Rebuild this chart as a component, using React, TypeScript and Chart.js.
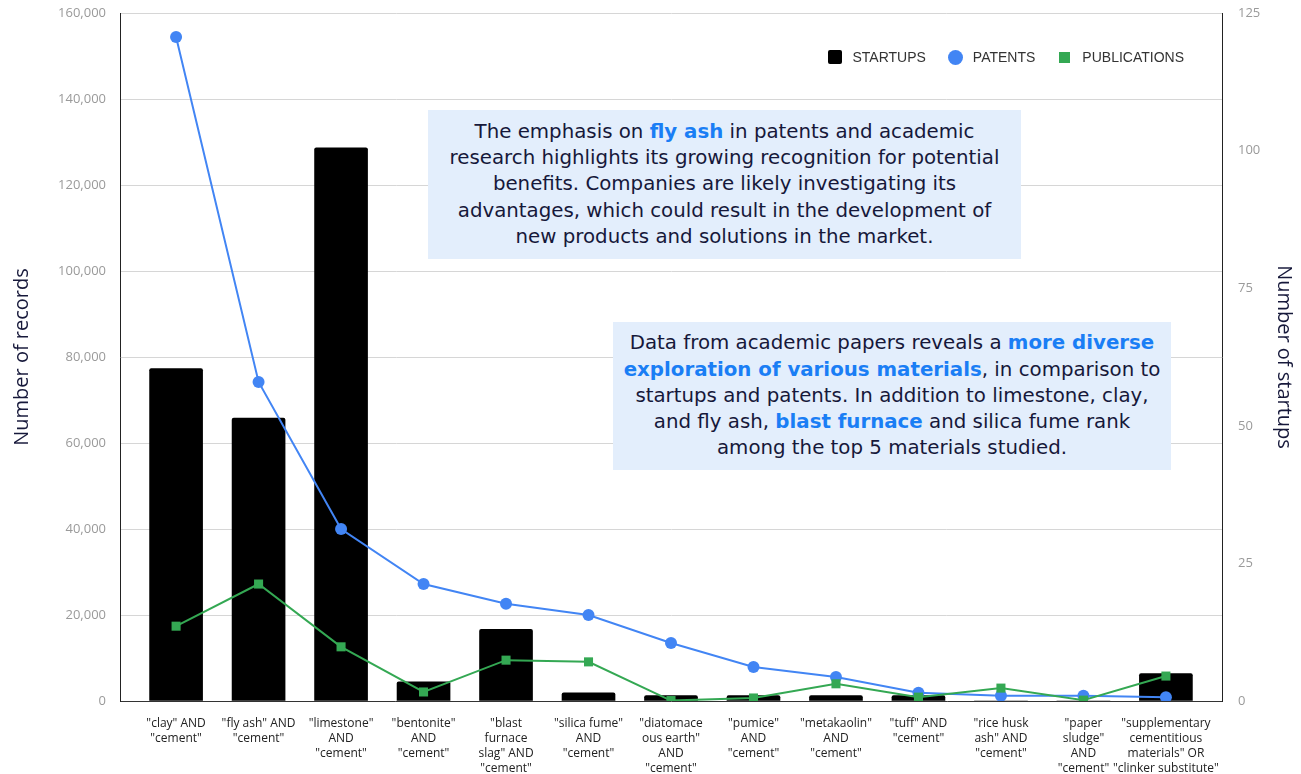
import React, { useEffect, useRef } from 'react';
import { Chart, registerables } from 'chart.js';

Chart.register(...registerables);

const categories: string[][] = [
  ['"clay" AND', '"cement"'],
  ['"fly ash" AND', '"cement"'],
  ['"limestone"', 'AND', '"cement"'],
  ['"bentonite"', 'AND', '"cement"'],
  ['"blast', 'furnace', 'slag" AND', '"cement"'],
  ['"silica fume"', 'AND', '"cement"'],
  ['"diatomace', 'ous earth"', 'AND', '"cement"'],
  ['"pumice"', 'AND', '"cement"'],
  ['"metakaolin"', 'AND', '"cement"'],
  ['"tuff" AND', '"cement"'],
  ['"rice husk', 'ash" AND', '"cement"'],
  ['"paper', 'sludge"', 'AND', '"cement"'],
  ['"supplementary', 'cementitious', 'materials" OR', '"clinker substitute"'],
];

const startups = [60.4, 51.4, 100.5, 3.5, 13, 1.5, 1, 1, 1, 1, 0, 0, 5];
const patents = [154400, 74200, 40000, 27200, 22600, 20000, 13500, 7900, 5600, 1900, 1200, 1200, 900];
const publications = [17400, 27200, 12600, 2100, 9500, 9100, 100, 700, 4000, 900, 3000, 200, 5800];

const seriesNames = ['STARTUPS', 'PATENTS', 'PUBLICATIONS'];
const seriesColors = ['#000000', '#4285f4', '#34a853'];

const leftTicksMax = 160000;
const leftTickStep = 20000;
const rightTicksMax = 125;
const rightTickStep = 25;

const FONT = '"Open Sans", sans-serif';
const BOXFONT = '"DejaVu Sans", sans-serif';
const NAVY = '#16183a';
const HL = '#1a7ef5';

const toXY = (arr: number[]) => arr.map((v, i) => ({ x: i, y: v }));

const fixVPad = (s: any, w: number) => {
  s.width = w;
  s.paddingTop = 8;
  s.paddingBottom = 8;
};

export default function App() {
  const ref = useRef<HTMLCanvasElement | null>(null);

  useEffect(() => {
    if (!ref.current) return;
    const chart = new Chart(ref.current, {
      type: 'bar',
      data: {
        datasets: [
          {
            type: 'bar',
            label: seriesNames[0],
            data: toXY(startups),
            yAxisID: 'y1',
            backgroundColor: seriesColors[0],
            borderRadius: 2,
            barThickness: 53,
            order: 2,
          } as any,
          {
            type: 'line',
            label: seriesNames[1],
            data: toXY(patents),
            yAxisID: 'y',
            borderColor: seriesColors[1],
            backgroundColor: seriesColors[1],
            borderWidth: 2,
            pointRadius: 6,
            pointHoverRadius: 6,
            pointStyle: 'circle',
            pointBorderWidth: 0,
            order: 1,
          },
          {
            type: 'line',
            label: seriesNames[2],
            data: toXY(publications),
            yAxisID: 'y',
            borderColor: seriesColors[2],
            backgroundColor: seriesColors[2],
            borderWidth: 2,
            pointRadius: 6.4,
            pointHoverRadius: 6.4,
            pointStyle: 'rect',
            pointBorderWidth: 0,
            order: 0,
          },
        ],
      },
      options: {
        animation: false,
        responsive: false,
        maintainAspectRatio: false,
        layout: { padding: { top: 13, left: 0, right: 0, bottom: 0 } },
        plugins: {
          tooltip: { enabled: false },
          legend: { display: false },
        },
        scales: {
          x: {
            type: 'linear',
            offset: false,
            min: -0.68,
            max: 12.68,
            grid: { display: false, drawTicks: false, offset: false },
            border: { display: true, color: '#333333', width: 1 },
            ticks: {
              stepSize: 1,
              includeBounds: false,
              autoSkip: false,
              maxRotation: 0,
              minRotation: 0,
              padding: 15,
              color: '#222222',
              font: { family: FONT, size: 12, lineHeight: 1.25 },
              callback: (v: any) => (Number.isInteger(v) && categories[v] ? categories[v] : ''),
            },
            afterFit: (s: any) => {
              s.height = 73;
              s.paddingLeft = 0;
              s.paddingRight = 0;
            },
          },
          y: {
            position: 'left',
            min: 0,
            max: leftTicksMax,
            grid: { color: '#d6d6d6', drawTicks: false },
            border: { display: true, color: '#222222', width: 1 },
            ticks: {
              stepSize: leftTickStep,
              padding: 14,
              color: '#9a9a9a',
              font: { family: FONT, size: 13 },
              callback: (v: any) => Number(v).toLocaleString('en-US'),
            },
            title: {
              display: true,
              text: 'Number of records',
              color: NAVY,
              font: { family: FONT, size: 20 },
              padding: { top: 10, bottom: 0 },
            },
            afterFit: (s: any) => fixVPad(s, 120),
          },
          y1: {
            position: 'right',
            min: 0,
            max: rightTicksMax,
            grid: { drawOnChartArea: false, drawTicks: false },
            border: { display: true, color: '#222222', width: 1 },
            ticks: {
              stepSize: rightTickStep,
              padding: 16,
              color: '#9a9a9a',
              font: { family: FONT, size: 13 },
            },
            title: {
              display: true,
              text: 'Number of startups',
              color: NAVY,
              font: { family: FONT, size: 20 },
              padding: { top: 5, bottom: 0 },
            },
            afterFit: (s: any) => fixVPad(s, 79),
          },
        },
      } as any,
    });
    return () => chart.destroy();
  }, []);

  const boxBase: React.CSSProperties = {
    position: 'absolute',
    background: '#e3eefc',
    color: NAVY,
    fontFamily: BOXFONT,
    fontSize: 19.8,
    lineHeight: '26.2px',
    textAlign: 'center',
    display: 'flex',
    flexDirection: 'column',
    justifyContent: 'center',
    whiteSpace: 'nowrap',
  };
  const hl: React.CSSProperties = { color: HL, fontWeight: 700 };

  const markers: React.CSSProperties[] = [
    { width: 14, height: 14, borderRadius: 2, background: seriesColors[0] },
    { width: 15, height: 15, borderRadius: '50%', background: seriesColors[1] },
    { width: 11, height: 11, background: seriesColors[2] },
  ];

  return (
    <div style={{ position: 'fixed', left: 0, top: 0, width: 1301, height: 774, background: '#ffffff' }}>
      <canvas ref={ref} width={1301} height={774} style={{ position: 'absolute', left: 0, top: 0, width: 1301, height: 774 }} />
      <div
        style={{
          position: 'absolute',
          right: 1301 - 1184,
          top: 47,
          height: 20,
          display: 'flex',
          alignItems: 'center',
          fontFamily: '"Liberation Sans", Arial, sans-serif',
          fontSize: 14,
          color: '#333333',
        }}
      >
        {seriesNames.map((name, i) => (
          <div key={name} style={{ display: 'flex', alignItems: 'center', marginLeft: i === 0 ? 0 : 22 }}>
            <div style={{ width: 15, display: 'flex', justifyContent: 'center', marginRight: 10 }}>
              <div style={markers[i]} />
            </div>
            <span>{name}</span>
          </div>
        ))}
      </div>
      <div style={{ ...boxBase, left: 428, top: 110, width: 593, height: 149 }}>
        <div>The emphasis on <span style={hl}>fly ash</span> in patents and academic</div>
        <div>research highlights its growing recognition for potential</div>
        <div>benefits. Companies are likely investigating its</div>
        <div>advantages, which could result in the development of</div>
        <div>new products and solutions in the market.</div>
      </div>
      <div style={{ ...boxBase, left: 613, top: 322, width: 558, height: 148 }}>
        <div>Data from academic papers reveals a <span style={hl}>more diverse</span></div>
        <div><span style={hl}>exploration of various materials</span>, in comparison to</div>
        <div>startups and patents. In addition to limestone, clay,</div>
        <div>and fly ash, <span style={hl}>blast furnace</span> and silica fume rank</div>
        <div>among the top 5 materials studied.</div>
      </div>
    </div>
  );
}
